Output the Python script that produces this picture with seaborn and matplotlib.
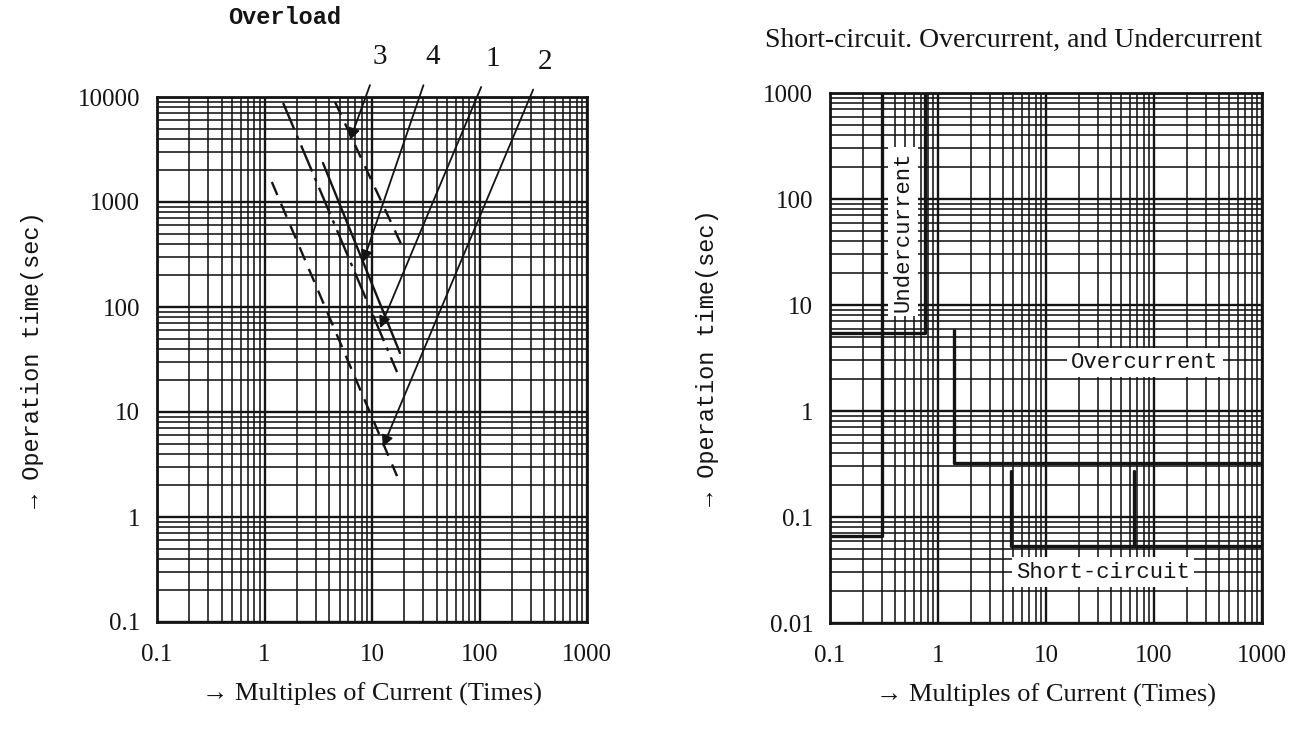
import matplotlib
matplotlib.use("Agg")
import matplotlib.pyplot as plt
import seaborn as sns
from matplotlib.ticker import FixedLocator, FixedFormatter, LogLocator, NullFormatter

# ---- data ----
# left chart: overload curves (multiples of current, operation time in sec)
CURVE1_X = [1.49, 17.1]
CURVE1_T = [8770, 24.0]
CURVE2_X = [1.17, 17.1]
CURVE2_T = [1550, 2.45]
CURVE3_X = [4.53, 19.4]
CURVE3_T = [8960, 365]
CURVE4_X = [3.50, 18.2]
CURVE4_T = [2350, 36.5]

ARROW_LABELS = ["3", "4", "1", "2"]
ARROW_TIP_X = [6.24, 8.24, 11.9, 12.6]
ARROW_TIP_T = [3890, 268, 63, 4.64]

# right chart: characteristic boundaries
UNDER_IN_X = [0.1, 0.30, 0.30]
UNDER_IN_T = [0.066, 0.066, 1000]
UNDER_OUT_X = [0.1, 0.76, 0.76]
UNDER_OUT_T = [5.4, 5.4, 1000]
OVER_X = [1.4, 1.4, 1000]
OVER_T = [5.8, 0.32, 0.32]
SHORT_X = [4.7, 4.7, 1000]
SHORT_T = [0.27, 0.053, 0.053]
SHORT2_X = [65, 65]
SHORT2_T = [0.27, 0.053]

X_TICKS = [0.1, 1, 10, 100, 1000]
X_LABELS = ["0.1", "1", "10", "100", "1000"]
Y_TICKS_L = [0.1, 1, 10, 100, 1000, 10000]
Y_LABELS_L = ["0.1", "1", "10", "100", "1000", "10000"]
Y_TICKS_R = [0.01, 0.1, 1, 10, 100, 1000]
Y_LABELS_R = ["0.01", "0.1", "1", "10", "100", "1000"]

sns.set_style("white")
plt.rcParams["font.family"] = ["Liberation Serif", "DejaVu Sans"]

INK = "#141414"
MONO = ["Liberation Mono", "DejaVu Sans Mono"]

fig = plt.figure(figsize=(12.96, 7.34), dpi=100)
ax1 = fig.add_axes([157 / 1296, 112 / 734, 430 / 1296, 525 / 734])
ax2 = fig.add_axes([830 / 1296, 111 / 734, 432 / 1296, 530 / 734])


def log_grid(ax, yticks, ylabels):
    ax.set_xscale("log")
    ax.set_yscale("log")
    ax.set_xlim(0.1, 1000)
    ax.set_ylim(yticks[0], yticks[-1])
    ax.xaxis.set_major_locator(FixedLocator(X_TICKS))
    ax.xaxis.set_major_formatter(FixedFormatter(X_LABELS))
    ax.yaxis.set_major_locator(FixedLocator(yticks))
    ax.yaxis.set_major_formatter(FixedFormatter(ylabels))
    for axis in (ax.xaxis, ax.yaxis):
        axis.set_minor_locator(LogLocator(base=10, subs=range(2, 10), numticks=20))
        axis.set_minor_formatter(NullFormatter())
    ax.grid(True, which="major", color=INK, lw=1.7)
    ax.grid(True, which="minor", color=INK, lw=1.15)
    ax.set_axisbelow(True)
    ax.tick_params(which="both", length=0, labelsize=18, colors=INK)
    ax.tick_params(axis="x", pad=16)
    ax.tick_params(axis="y", pad=12)
    for s in ax.spines.values():
        s.set_color(INK)
        s.set_linewidth(2)


log_grid(ax1, Y_TICKS_L, Y_LABELS_L)
log_grid(ax2, Y_TICKS_R, Y_LABELS_R)

# ---- left: overload curves ----
sns.lineplot(x=CURVE1_X, y=CURVE1_T, ax=ax1, color=INK, lw=1.7,
             linestyle=(0, (12, 3, 1.5, 3)), estimator=None, sort=False)
sns.lineplot(x=CURVE2_X, y=CURVE2_T, ax=ax1, color=INK, lw=1.7,
             linestyle=(0, (6, 4)), estimator=None, sort=False)
sns.lineplot(x=CURVE3_X, y=CURVE3_T, ax=ax1, color=INK, lw=1.7,
             linestyle=(0, (6, 4)), estimator=None, sort=False)
sns.lineplot(x=CURVE4_X, y=CURVE4_T, ax=ax1, color=INK, lw=1.7,
             estimator=None, sort=False)

label_pos = [(0.519, 1.076), (0.642, 1.076), (0.781, 1.072), (0.902, 1.067)]
for lab, tx, tt, pos in zip(ARROW_LABELS, ARROW_TIP_X, ARROW_TIP_T, label_pos):
    ax1.annotate(lab, xy=(tx, tt), xycoords="data", xytext=pos,
                 textcoords="axes fraction", ha="center", va="center",
                 fontsize=21, color=INK, annotation_clip=False,
                 arrowprops=dict(arrowstyle="-|>", color=INK, lw=1.3,
                                 mutation_scale=17, shrinkA=9, shrinkB=0))

fig.text(285 / 1296, 1 - 17 / 734, "Overload", family=MONO, fontsize=17,
         fontweight="bold", ha="center", va="center", color=INK)
ax1.set_xlabel("→ Multiples of Current (Times)", fontsize=19, color=INK,
               labelpad=12)
ax1.set_ylabel("→ Operation time(sec)", family=MONO, fontsize=17, color=INK,
               labelpad=24)

# ---- right: short-circuit / overcurrent / undercurrent ----
for xs, ts in [(UNDER_IN_X, UNDER_IN_T), (UNDER_OUT_X, UNDER_OUT_T),
               (OVER_X, OVER_T), (SHORT_X, SHORT_T), (SHORT2_X, SHORT2_T)]:
    sns.lineplot(x=xs, y=ts, ax=ax2, color=INK, lw=2.4,
                 estimator=None, sort=False)

box = dict(fc="white", ec="none", pad=3)
ax2.text(0.729, 0.492, "Overcurrent", transform=ax2.transAxes, family=MONO,
         fontsize=16, ha="center", va="center", color=INK, bbox=box, zorder=5)
ax2.text(0.632, 0.096, "Short-circuit", transform=ax2.transAxes, family=MONO,
         fontsize=16, ha="center", va="center", color=INK, bbox=box, zorder=5)
ax2.text(0.169, 0.738, "Undercurrent", transform=ax2.transAxes, family=MONO,
         fontsize=16, ha="center", va="center", rotation=90, color=INK,
         bbox=box, zorder=5)

fig.text(1014 / 1296, 1 - 40 / 734, "Short-circuit. Overcurrent, and Undercurrent",
         fontsize=20, color=INK, ha="center", va="center")
ax2.set_xlabel("→ Multiples of Current (Times)", fontsize=19, color=INK,
               labelpad=12)
ax2.set_ylabel("→ Operation time(sec)", family=MONO, fontsize=17, color=INK,
               labelpad=32)

fig.savefig("out.png", dpi=100, facecolor="white")
